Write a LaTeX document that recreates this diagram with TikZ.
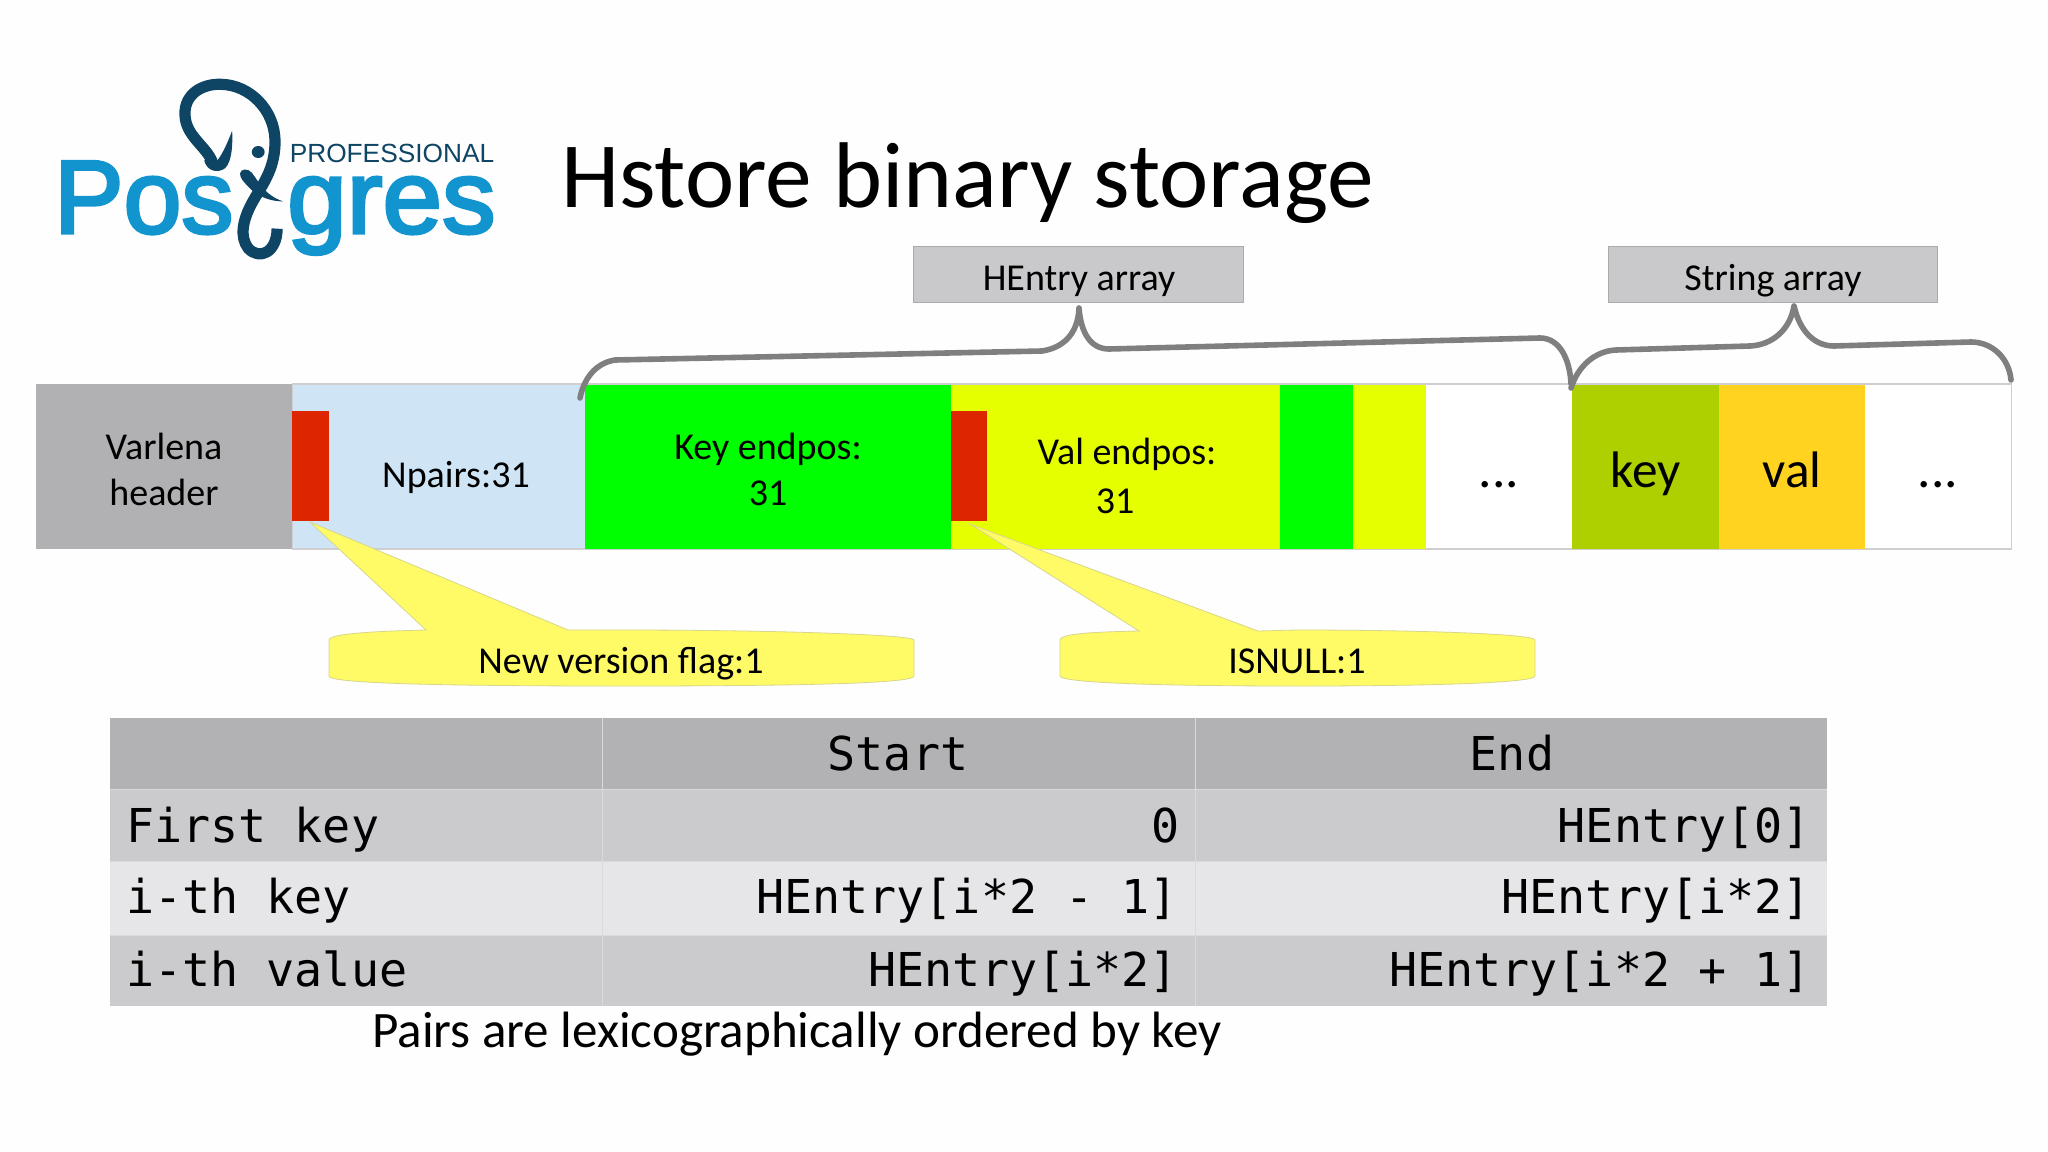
\documentclass[tikz,border=0pt]{standalone}
\usepackage{fontspec}
\setmainfont{Carlito}
\setmonofont{DejaVu Sans Mono}
\newfontfamily\logofont[FakeBold=3]{Liberation Sans}
\newfontfamily\logowide[FakeBold=3,FakeStretch=1.03]{Liberation Sans}
\newfontfamily\logothin{Liberation Sans}
\definecolor{pgback}{HTML}{FEFEFE}
\definecolor{varl}{HTML}{B1B0B2}
\definecolor{npairs}{HTML}{CFE5F5}
\definecolor{keygreen}{HTML}{00FF00}
\definecolor{valyel}{HTML}{E6FF00}
\definecolor{keyol}{HTML}{AFD000}
\definecolor{valor}{HTML}{FFD320}
\definecolor{flagred}{HTML}{DD2600}
\definecolor{boxgrey}{HTML}{C9C9CB}
\definecolor{barline}{HTML}{CFCFD1}
\definecolor{bracegrey}{HTML}{7F7F7F}
\definecolor{callout}{HTML}{FFFB66}
\definecolor{calloutline}{HTML}{D8D68C}
\definecolor{thead}{HTML}{B2B1B3}
\definecolor{tdark}{HTML}{CBCACC}
\definecolor{tlight}{HTML}{E6E5E7}
\definecolor{tsep}{HTML}{DADADC}
\definecolor{logoblue}{HTML}{1295CF}
\definecolor{logodark}{HTML}{0F4564}
\tikzset{
  barlabel/.style={anchor=base,font=\fontsize{28.5}{34}\selectfont,inner sep=0pt,text=black},
  biglabel/.style={anchor=base,font=\fontsize{38.5}{44}\selectfont,inner sep=0pt,text=black},
  dotlabel/.style={anchor=base,font=\fontsize{40}{44}\selectfont,inner sep=0pt,text=black},
  arraybox/.style={fill=boxgrey,draw=boxgrey!85!black,line width=0.5pt},
  bracepath/.style={draw=bracegrey,line width=4.2pt,line cap=round,line join=round},
  calloutshape/.style={fill=callout,draw=calloutline,line width=0.6pt},
  tablehead/.style={anchor=base,font=\fontsize{35}{40}\ttfamily,inner sep=0pt,text=black},
  tableleft/.style={anchor=base west,font=\fontsize{35}{40}\ttfamily,inner sep=0pt,text=black},
  tableright/.style={anchor=base east,font=\fontsize{35}{40}\ttfamily,inner sep=0pt,text=black},
  logopaint/.style={fill=logodark,draw=none},
}
\begin{document}
\begin{tikzpicture}[x=0.75pt,y=-0.75pt]
\useasboundingbox (0,0) rectangle (2048,1152);
\fill[pgback] (0,0) rectangle (2048,1152);

% logo
\node[anchor=base west,inner sep=0pt,text=logoblue,font=\fontsize{78}{80}\logofont] (logoA) at (54,233) {Pos};
\node[anchor=base west,inner sep=0pt,text=logoblue,font=\fontsize{78}{80}\logowide] (logoB) at (287,233) {gres};
\node[anchor=base west,inner sep=0pt,text=logodark,font=\fontsize{19.7}{20}\logothin] (logoC) at (289.5,162) {PROFESSIONAL};
\begin{scope}[shift={(0,40)},x=0.26786pt,y=-0.25pt]
  \draw[logodark,line width=8.4pt,line cap=butt,line join=round]
    (595,368) .. controls (580,320) and (520,290) .. (518,225)
    .. controls (515,160) and (570,130) .. (620,133)
    .. controls (700,135) and (768,210) .. (770,300)
    .. controls (772,390) and (730,440) .. (705,490)
    .. controls (680,540) and (670,590) .. (695,625)
    .. controls (725,660) and (775,640) .. (776,566);
  \fill[logopaint] (650,272) .. controls (640,300) and (625,340) .. (608,362)
    .. controls (600,345) and (585,345) .. (572,362)
    .. controls (580,395) and (610,400) .. (630,385)
    .. controls (650,365) and (652,310) .. (650,272) -- cycle;
  \fill[logopaint] (723,336) circle [x radius=18,y radius=18];
  \fill[logopaint] (672,400) .. controls (675,385) and (695,385) .. (705,398)
    .. controls (725,425) and (740,465) .. (792,484)
    .. controls (760,485) and (720,470) .. (695,440)
    .. controls (682,425) and (672,415) .. (672,400) -- cycle;
\end{scope}

% title
\node[anchor=base west,inner sep=0pt,font=\fontsize{70}{74}\selectfont] (title) at (561,208) {Hstore binary storage};

% array boxes
\draw[arraybox] (913,246) rectangle (1243,302);
\draw[arraybox] (1608,246) rectangle (1937,302);
\node[barlabel] (hentry) at (1079,290) {HEntry array};
\node[barlabel] (strarr) at (1773,290) {String array};

% bar
\fill[barline] (292,383) rectangle (2012,550);
\fill[white] (1426,385) rectangle (1572,548);
\fill[white] (1865,385) rectangle (2011,548);
\fill[varl] (36,384) rectangle (292,549);
\fill[npairs] (293,385) rectangle (585,548);
\fill[keygreen] (585,385) rectangle (951,549);
\fill[valyel] (951,385) rectangle (1280,549);
\fill[keygreen] (1280,385) rectangle (1353,549);
\fill[valyel] (1353,385) rectangle (1426,549);
\fill[keyol] (1572,385) rectangle (1719,549);
\fill[valor] (1719,385) rectangle (1865,549);
\fill[flagred] (292,411) rectangle (329,521);
\fill[flagred] (951,411) rectangle (987,521);

\node[barlabel] (varlena) at (164,459) {Varlena};
\node[barlabel] (header) at (164,505) {header};
\node[barlabel] (npairslbl) at (456,487) {Npairs:31};
\node[barlabel] (keylbl) at (768,459) {Key endpos:};
\node[barlabel] (keynum) at (768,505) {31};
\node[barlabel] (vallbl) at (1127,464) {Val endpos:};
\node[barlabel] (valnum) at (1115,513) {31};
\node[dotlabel] (dots1) at (1499,487) {...};
\node[biglabel] (keytxt) at (1646,487) {key};
\node[biglabel] (valtxt) at (1792,487) {val};
\node[dotlabel] (dots2) at (1938,487) {...};

% braces
\draw[bracepath] (580,398) .. controls (584,378) and (596,363) .. (615,360)
  -- (1042,351) .. controls (1062,348) and (1078,335) .. (1079,308)
  .. controls (1081,335) and (1092,349) .. (1109,349)
  -- (1540,338) .. controls (1560,338) and (1570,360) .. (1571,384);
\draw[bracepath] (1571,388) .. controls (1578,366) and (1595,351) .. (1616,350)
  -- (1750,346) .. controls (1772,345) and (1790,330) .. (1794,306)
  .. controls (1800,332) and (1815,346) .. (1834,346)
  -- (1971,342) .. controls (1992,342) and (2009,358) .. (2011,380);

% callouts
\draw[calloutshape] (310,522) -- (426,630) .. controls (385,631) and (329,633) .. (329,640)
  -- (329,676) .. controls (329,682) and (400,686) .. (621,686)
  .. controls (842,686) and (914,682) .. (914,676) -- (914,640)
  .. controls (914,635) and (780,630) .. (621,630) -- (568,630) -- cycle;
\node[barlabel] (flaglbl) at (621,673) {New version flag:1};
\draw[calloutshape] (970,524) -- (1139,631) .. controls (1090,632) and (1060,634) .. (1060,640)
  -- (1060,676) .. controls (1060,682) and (1140,686) .. (1297,686)
  .. controls (1454,686) and (1535,682) .. (1535,676) -- (1535,640)
  .. controls (1535,634) and (1420,630) .. (1297,630) -- (1258,631) -- cycle;
\node[barlabel] (isnull) at (1297,673) {ISNULL:1};

% table
\fill[thead] (110,718) rectangle (1827,789);
\fill[tdark] (110,789) rectangle (1827,861);
\fill[tlight] (110,861) rectangle (1827,935);
\fill[tdark] (110,935) rectangle (1827,1006);
\draw[tsep,line width=0.6pt] (110,789) -- (1827,789) (110,861) -- (1827,861) (110,935) -- (1827,935);
\draw[tsep,line width=0.5pt] (602,718) -- (602,1006) (1195,718) -- (1195,1006);

\node[tablehead] (hstart) at (898,770.5) {Start};
\node[tablehead] (hend) at (1512,770.5) {End};
\node[tableleft] (r1) at (126,842) {First key};
\node[tableleft] (r2) at (126,913) {i-th key};
\node[tableleft] (r3) at (126,986) {i-th value};
\node[tableright] (r1s) at (1180,842) {0};
\node[tableright] (r2s) at (1178,913) {HEntry[i*2 - 1]};
\node[tableright] (r3s) at (1178,986) {HEntry[i*2]};
\node[tableright] (r1e) at (1811,842) {HEntry[0]};
\node[tableright] (r2e) at (1811,913) {HEntry[i*2]};
\node[tableright] (r3e) at (1811,986) {HEntry[i*2 + 1]};

\node[anchor=base west,inner sep=0pt,font=\fontsize{38.3}{42}\selectfont] (caption) at (372,1047) {Pairs are lexicographically ordered by key};
\end{tikzpicture}
\end{document}
